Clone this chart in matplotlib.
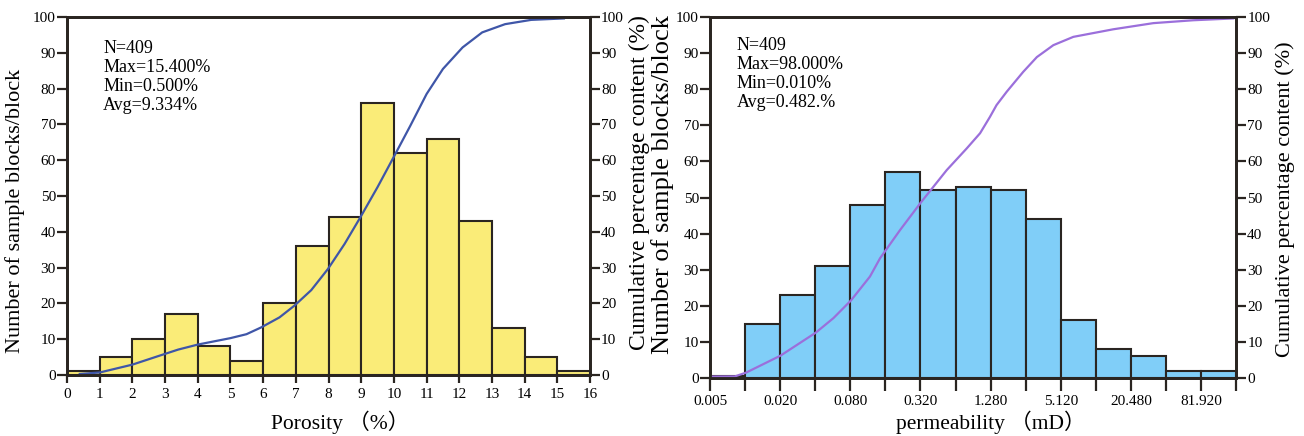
import numpy as np
import matplotlib
matplotlib.use("Agg")
import matplotlib.pyplot as plt
from matplotlib.ticker import FixedLocator, NullLocator, NullFormatter

plt.rcParams['font.family'] = ['Liberation Serif', 'Noto Sans CJK SC']

# porosity histogram (1% bins, 0-16 %)
poro_edges = np.arange(0, 17, 1)
poro_counts = [1, 5, 10, 17, 8, 4, 20, 36, 44, 76, 62, 66, 43, 13, 5, 1]
# cumulative curve read along porosity
poro_cum_x = [0.39, 1.0, 2.0, 2.83, 3.4, 4.0, 5.0, 5.49, 5.94, 6.5, 6.96, 7.47, 7.98, 8.49,
              8.97, 9.5, 10.0, 10.5, 11.0, 11.5, 12.1, 12.7, 13.4, 14.2, 15.2]
poro_cum_y = [0.3, 0.7, 2.9, 5.4, 7.1, 8.5, 10.3, 11.4, 13.3, 16.1, 19.4, 23.7, 29.6, 36.6,
              44.0, 52.5, 61.0, 69.6, 78.5, 85.5, 91.5, 95.7, 98.0, 99.2, 99.6]
poro_stats = ["N=409", "Max=15.400%", "Min=0.500%", "Avg=9.334%"]

# permeability histogram, bin edges double from 0.005 mD
perm_edges = 0.005 * 2.0 ** np.arange(16)
perm_counts = [0.6, 15, 23, 31, 48, 57, 52, 53, 52, 44, 16, 8, 6, 2, 2]
# cumulative curve, position given in bin steps from 0.005 mD
perm_cum_k = [0, 0.71, 1.03, 2.01, 3.02, 3.52, 4.02, 4.56, 4.85, 5.42, 6.01, 6.75, 7.32,
              7.70, 7.98, 8.17, 8.46, 8.93, 9.32, 9.79, 10.36, 11.12, 11.5, 12.64, 13.78, 14.92]
perm_cum_y = [0.4, 0.45, 1.5, 6.2, 12.6, 16.6, 21.5, 28.1, 33.2, 41.0, 48.6, 57.6, 63.6,
              67.8, 72.3, 75.6, 79.3, 84.8, 88.9, 92.2, 94.5, 95.9, 96.6, 98.3, 99.1, 99.6]
perm_labels = ["0.005", "0.020", "0.080", "0.320", "1.280", "5.120", "20.480", "81.920"]
perm_stats = ["N=409", "Max=98.000%", "Min=0.010%", "Avg=0.482.%"]

edge_col = '#2a2521'
yellow = '#faec78'
blue = '#80cef8'
line_blue = '#3f56a8'
purple = '#9b6fdb'
tick_fs = 11

fig = plt.figure(figsize=(13.04, 4.36), dpi=100)
ax1 = fig.add_axes([0.0514, 0.1399, 0.4011, 0.8211])
ax2 = fig.add_axes([0.5445, 0.1330, 0.4034, 0.8280])


def style(ax, twin):
    for a in (ax, twin):
        for s in a.spines.values():
            s.set_linewidth(2.0)
            s.set_color(edge_col)
        a.set_ylim(0, 100)
        a.yaxis.set_major_locator(FixedLocator(np.arange(0, 101, 10)))
        a.tick_params(axis='y', direction='out', length=7, width=1.6, color=edge_col,
                      labelsize=tick_fs, pad=1)
        a.tick_params(axis='x', direction='out', length=6, width=1.6, color=edge_col,
                      labelsize=tick_fs, pad=3)


def place_label(axis, x, y):
    axis.set_label_coords(x, y)
    axis.label.set_verticalalignment('center')


# ---- porosity ----
tw1 = ax1.twinx()
style(ax1, tw1)
ax1.bar(poro_edges[:-1], poro_counts, width=1, align='edge', color=yellow,
        edgecolor=edge_col, linewidth=1.5)
tw1.plot(poro_cum_x, poro_cum_y, color=line_blue, linewidth=1.6, solid_joinstyle='round')
ax1.set_xlim(0, 16)
ax1.xaxis.set_major_locator(FixedLocator(poro_edges))
ax1.set_ylabel("Number of sample blocks/block", fontsize=16)
place_label(ax1.yaxis, -0.099, 0.458)
tw1.set_ylabel("Cumulative percentage content (%)", fontsize=17)
place_label(tw1.yaxis, 1.094, 0.538)
ax1.set_xlabel("Porosity （%）", fontsize=15.5)
place_label(ax1.xaxis, 0.522, -0.131)
for i, s in enumerate(poro_stats):
    ax1.text(0.069, 0.911 - 0.053 * i, s, transform=ax1.transAxes, fontsize=13,
             va='center', ha='left')

# ---- permeability ----
tw2 = ax2.twinx()
style(ax2, tw2)
ax2.set_xscale('log', base=2)
ax2.bar(perm_edges[:-1], perm_counts, width=np.diff(perm_edges), align='edge',
        color=blue, edgecolor=edge_col, linewidth=1.5)
tw2.set_xscale('log', base=2)
tw2.plot(perm_edges[0] * 2.0 ** np.array(perm_cum_k), perm_cum_y, color=purple,
         linewidth=1.6, solid_joinstyle='round')
ax2.set_xlim(perm_edges[0], perm_edges[-1])
ax2.xaxis.set_major_locator(FixedLocator(perm_edges))
ax2.set_xticklabels([perm_labels[i // 2] if i % 2 == 0 else "" for i in range(len(perm_edges))])
ax2.xaxis.set_minor_locator(NullLocator())
ax2.xaxis.set_minor_formatter(NullFormatter())
ax2.tick_params(axis='x', length=9)
ax2.set_ylabel("Number of sample blocks/block", fontsize=19)
place_label(ax2.yaxis, -0.0894, 0.537)
tw2.set_ylabel("Cumulative percentage content (%)", fontsize=16)
place_label(tw2.yaxis, 1.093, 0.496)
ax2.set_xlabel("permeability （mD）", fontsize=15.5)
place_label(ax2.xaxis, 0.534, -0.122)
for i, s in enumerate(perm_stats):
    ax2.text(0.051, 0.922 - 0.053 * i, s, transform=ax2.transAxes, fontsize=13,
             va='center', ha='left')

fig.savefig("out.png", dpi=100)
